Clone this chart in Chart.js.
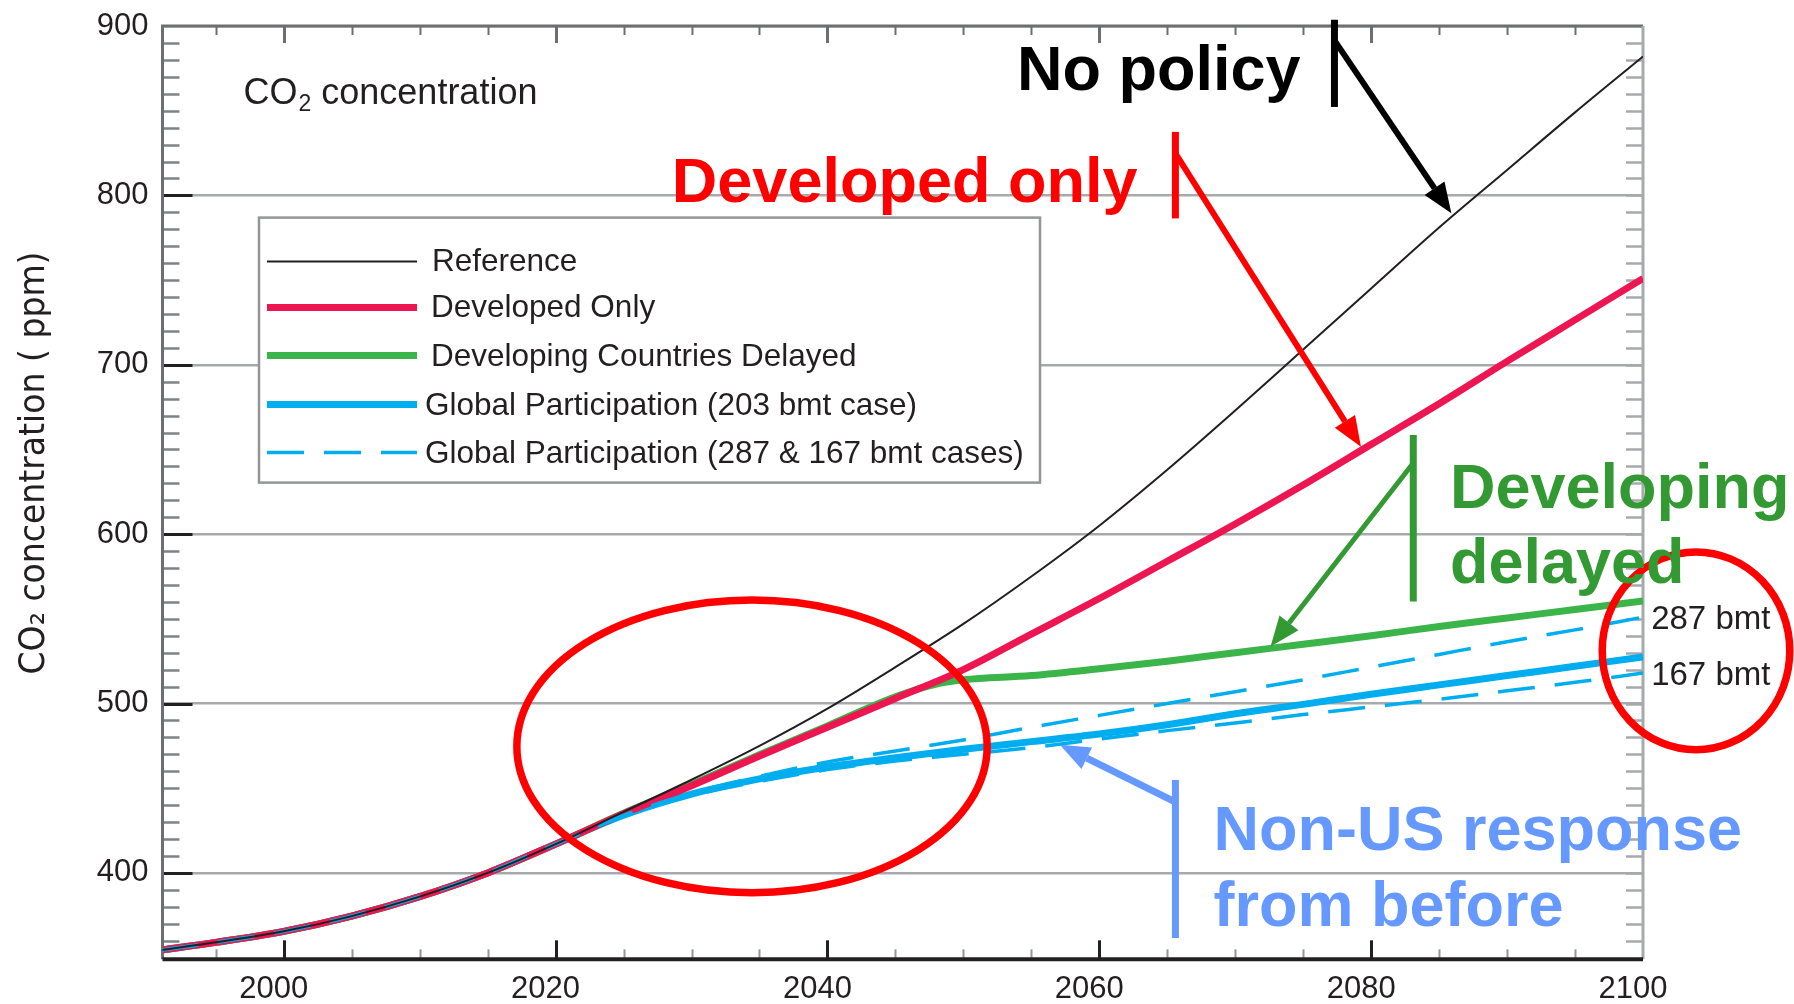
<!DOCTYPE html>
<html>
<head>
<meta charset="utf-8">
<script src="https://cdn.jsdelivr.net/npm/chart.js@4.4.1/dist/chart.umd.min.js"></script>
<style>
  html, body { margin: 0; padding: 0; background: #fff; }
</style>
</head>
<body>
<canvas id="co2Chart" width="1794" height="1004"></canvas>
<script>
// Years sampled along every scenario (delayed case has one extra point at its kink)
var years = [1991, 1995, 2000, 2005, 2010, 2015, 2020, 2025, 2030, 2035, 2040, 2045, 2050, 2055, 2060, 2065, 2070, 2075, 2080, 2085, 2090, 2095, 2100];
var delayedYears = [1991, 1995, 2000, 2005, 2010, 2015, 2020, 2025, 2030, 2035, 2040, 2045, 2048, 2050, 2055, 2060, 2065, 2070, 2075, 2080, 2085, 2090, 2095, 2100];

// CO2 concentration (ppm)
var reference = [354.5, 359, 365.5, 374.5, 386, 400, 417, 436, 455, 475, 497, 521.5, 547, 575, 605, 638, 673, 709, 745, 781, 815, 849, 882];
var developedOnly = [354.5, 359, 365.5, 374.5, 386, 400, 417, 435, 451.5, 469, 486, 503, 520, 541, 562, 584, 606, 629, 653, 677, 702, 726.5, 751];
var delayed = [354.5, 359, 365.5, 374.5, 386, 400, 417, 435.3, 452.2, 469.8, 486.8, 504, 511.5, 514, 516.5, 520.5, 525, 530, 535, 540, 545.5, 550.5, 555.5, 560.5];
var global203 = [354.5, 359, 365.5, 374.5, 386, 400, 417, 434, 446.5, 455.5, 462.5, 468, 473, 477.5, 482, 487.5, 494, 499.5, 505.5, 511, 516.5, 522, 527.5];
var global287 = [354.5, 359, 365.5, 374.5, 386, 400, 417, 434, 447, 457, 465.5, 472, 478.5, 486, 493, 500, 507, 514, 521.5, 529, 536.5, 543.5, 551];
var global167 = [354.5, 359, 365.5, 374.5, 386, 400, 417, 433.5, 445.5, 454, 461, 466, 470, 474, 479, 484, 488.5, 493.5, 498, 502.5, 507.5, 512.5, 518];

// tick labels
var xTickYears = [2000, 2020, 2040, 2060, 2080, 2100];
var yTickValues = [400, 500, 600, 700, 800, 900];

var legendLabels = ['Reference', 'Developed Only', 'Developing Countries Delayed',
  'Global Participation (203 bmt case)', 'Global Participation (287 & 167 bmt cases)'];

function pts(xs, vs) {
  return xs.map(function (x, i) { return { x: x, y: vs[i] }; });
}

var BLACK = '#231f20', RED = '#ed1651', GREEN = '#3bb54a', BLUE = '#00aeef';
var TXT = '"Liberation Sans", Arial, sans-serif';

// annotation layout, in chart units (year, ppm)
var notes = [
  { lines: ['No policy'], color: '#000000', x: 2053.95, y: [862],
    bar: [2077.3, 903.7, 852.2], from: [2077.3, 891.5], to: [2085.9, 789.5], w: 6 },
  { lines: ['Developed only'], color: '#ff0000', x: 2028.55, y: [796.2],
    bar: [2065.6, 837.5, 786.4], from: [2065.6, 824.8], to: [2079.25, 651.6], w: 6 },
  { lines: ['Developing', 'delayed'], color: '#339933', x: 2085.8, y: [615.7, 571],
    bar: [2083.1, 658.5, 560.2], from: [2083.1, 642], to: [2072.6, 533.6], w: 5 },
  { lines: ['Non-US response', 'from before'], color: '#6699ff', x: 2068.4, y: [413.7, 368.4],
    bar: [2065.6, 454.8, 361.6], from: [2065.5, 442.2], to: [2057.1, 475.6], w: 7 }
];
var rings = [
  { x: 2034.45, y: 474.7, rx: 17.3, ry: 86.4 },
  { x: 2103.9, y: 531.1, rx: 6.9, ry: 58.4 }
];
var endLabels = [
  { text: '287 bmt', x: 2100.6, y: 543.9 },
  { text: '167 bmt', x: 2100.6, y: 511.0 }
];

function arrow(ctx, x1, y1, x2, y2, color, w) {
  var ang = Math.atan2(y2 - y1, x2 - x1), L = 30, H = 12;
  var bx = x2 - L * Math.cos(ang), by = y2 - L * Math.sin(ang);
  ctx.strokeStyle = color; ctx.fillStyle = color; ctx.lineWidth = w; ctx.lineCap = 'butt';
  ctx.beginPath(); ctx.moveTo(x1, y1); ctx.lineTo(bx, by); ctx.stroke();
  ctx.beginPath();
  ctx.moveTo(x2, y2);
  ctx.lineTo(bx + H * Math.sin(ang), by - H * Math.cos(ang));
  ctx.lineTo(bx - H * Math.sin(ang), by + H * Math.cos(ang));
  ctx.closePath(); ctx.fill();
}

var framePlugin = {
  id: 'framePlugin',
  beforeDatasetsDraw: function (chart) {
    var ctx = chart.ctx, a = chart.chartArea, xs = chart.scales.x, ys = chart.scales.y;
    ctx.save();
    ctx.lineCap = 'butt';
    // inner ticks on left and right
    for (var v = 360; v < 900; v += 10) {
      var py = Math.round(ys.getPixelForValue(v)) + 0.5;
      var major = v % 100 === 0;
      ctx.strokeStyle = major ? BLACK : '#808285';
      ctx.lineWidth = major ? 3 : 2.5;
      ctx.beginPath(); ctx.moveTo(a.left, py); ctx.lineTo(a.left + (major ? 30 : 17), py); ctx.stroke();
      ctx.strokeStyle = '#a7a9ac'; ctx.lineWidth = 2.5;
      ctx.beginPath(); ctx.moveTo(a.right, py); ctx.lineTo(a.right - 17, py); ctx.stroke();
    }
    // inner ticks on bottom and top
    for (var yr = 1995; yr < 2100; yr += 5) {
      var px = Math.round(xs.getPixelForValue(yr)) + 0.5;
      var maj = yr % 20 === 0;
      ctx.strokeStyle = maj ? BLACK : '#939598'; ctx.lineWidth = maj ? 3 : 2;
      ctx.beginPath(); ctx.moveTo(px, a.bottom); ctx.lineTo(px, a.bottom - (maj ? 19 : 10)); ctx.stroke();
      ctx.strokeStyle = '#6d6e71'; ctx.lineWidth = maj ? 3 : 2;
      ctx.beginPath(); ctx.moveTo(px, a.top); ctx.lineTo(px, a.top + (maj ? 17 : 9)); ctx.stroke();
    }
    // frame
    ctx.lineWidth = 3; ctx.strokeStyle = '#6d6e71';
    ctx.beginPath(); ctx.moveTo(a.left, a.bottom); ctx.lineTo(a.left, a.top); ctx.lineTo(a.right, a.top); ctx.stroke();
    ctx.strokeStyle = '#a7a9ac';
    ctx.beginPath(); ctx.moveTo(a.right, a.top); ctx.lineTo(a.right, a.bottom); ctx.stroke();
    ctx.strokeStyle = BLACK; ctx.lineWidth = 4;
    ctx.beginPath(); ctx.moveTo(a.left, a.bottom); ctx.lineTo(a.right, a.bottom); ctx.stroke();
    ctx.restore();
  },
  afterDatasetsDraw: function (chart) {
    var ctx = chart.ctx, a = chart.chartArea, xs = chart.scales.x, ys = chart.scales.y;
    var X = function (v) { return xs.getPixelForValue(v); };
    var Y = function (v) { return ys.getPixelForValue(v); };
    ctx.save();

    // panel caption
    ctx.fillStyle = BLACK; ctx.textBaseline = 'alphabetic'; ctx.textAlign = 'left';
    var cx = a.left + 81, cy = a.top + 78;
    ctx.font = '36px ' + TXT; ctx.fillText('CO', cx, cy);
    cx += ctx.measureText('CO').width;
    ctx.font = '23px ' + TXT; ctx.fillText('2', cx + 1, cy + 7);
    cx += ctx.measureText('2').width + 1;
    ctx.font = '36px ' + TXT; ctx.fillText(' concentration', cx, cy);

    // legend box
    var lx = a.left + 96.5, ly = a.top + 191.6;
    ctx.fillStyle = '#ffffff'; ctx.fillRect(lx, ly, 781, 265);
    ctx.strokeStyle = '#939598'; ctx.lineWidth = 2.5; ctx.strokeRect(lx, ly, 781, 265);
    var rowLine = [44, 90, 138, 187, 235], rowBase = [53, 99, 148, 197, 245];
    var rowText = [173, 172, 172, 166, 166];
    var sw = [
      { c: BLACK, w: 2, d: [] }, { c: RED, w: 7, d: [] }, { c: GREEN, w: 7, d: [] },
      { c: BLUE, w: 7, d: [] }, { c: BLUE, w: 3.5, d: [37, 20] }
    ];
    legendLabels.forEach(function (t, i) {
      ctx.strokeStyle = sw[i].c; ctx.lineWidth = sw[i].w; ctx.setLineDash(sw[i].d);
      ctx.beginPath(); ctx.moveTo(lx + 8, ly + rowLine[i]); ctx.lineTo(lx + 158, ly + rowLine[i]); ctx.stroke();
      ctx.setLineDash([]);
      ctx.fillStyle = BLACK; ctx.font = '31.5px ' + TXT;
      ctx.fillText(t, lx + rowText[i], ly + rowBase[i]);
    });

    // red rings
    ctx.strokeStyle = '#ff0000'; ctx.lineWidth = 7.5;
    rings.forEach(function (r) {
      var px = X(r.x), py = Y(r.y);
      ctx.beginPath();
      ctx.ellipse(px, py, X(r.x + r.rx) - px, Y(r.y - r.ry) - py, 0, 0, Math.PI * 2);
      ctx.stroke();
    });

    // labels at right edge
    ctx.fillStyle = BLACK; ctx.font = '33px ' + TXT;
    endLabels.forEach(function (e) { ctx.fillText(e.text, X(e.x), Y(e.y)); });

    // big annotations
    notes.forEach(function (n) {
      ctx.fillStyle = n.color; ctx.font = 'bold 63px ' + TXT;
      n.lines.forEach(function (t, i) { ctx.fillText(t, X(n.x), Y(n.y[i])); });
      ctx.strokeStyle = n.color; ctx.lineWidth = 7;
      ctx.beginPath(); ctx.moveTo(X(n.bar[0]), Y(n.bar[1])); ctx.lineTo(X(n.bar[0]), Y(n.bar[2])); ctx.stroke();
      arrow(ctx, X(n.from[0]), Y(n.from[1]), X(n.to[0]), Y(n.to[1]), n.color, n.w);
    });

    // y axis title
    ctx.save();
    ctx.translate(44, 463);
    ctx.rotate(-Math.PI / 2);
    ctx.font = '36px "DejaVu Sans", sans-serif';
    ctx.fillStyle = BLACK; ctx.textAlign = 'center';
    var title = 'CO\u2082 concentration ( ppm)';
    var tw = ctx.measureText(title).width;
    ctx.scale(423 / tw, 1);
    ctx.fillText(title, 0, 0);
    ctx.restore();

    ctx.restore();
  }
};

var ctx = document.getElementById('co2Chart').getContext('2d');
var co2Chart = new Chart(ctx, {
  type: 'line',
  data: {
    datasets: [{
      label: 'Reference',
      data: pts(years, reference),
      borderColor: BLACK, borderWidth: 2, order: 0
    }, {
      label: 'Global Participation (287 bmt case)',
      data: pts(years, global287),
      borderColor: BLUE, borderWidth: 3.5, borderDash: [37, 20], order: 1
    }, {
      label: 'Global Participation (167 bmt case)',
      data: pts(years, global167),
      borderColor: BLUE, borderWidth: 3.5, borderDash: [37, 20], order: 1
    }, {
      label: 'Developed Only',
      data: pts(years, developedOnly),
      borderColor: RED, borderWidth: 7, order: 2
    }, {
      label: 'Developing Countries Delayed',
      data: pts(delayedYears, delayed),
      borderColor: GREEN, borderWidth: 7, order: 3
    }, {
      label: 'Global Participation (203 bmt case)',
      data: pts(years, global203),
      borderColor: BLUE, borderWidth: 7, order: 4
    }]
  },
  options: {
    responsive: false,
    animation: false,
    devicePixelRatio: 1,
    layout: { padding: { top: 26, right: 151, left: 0, bottom: 0 } },
    elements: {
      point: { radius: 0, hoverRadius: 0 },
      line: { fill: false, cubicInterpolationMode: 'monotone', borderCapStyle: 'butt' }
    },
    plugins: { legend: { display: false }, tooltip: { enabled: false } },
    scales: {
      x: {
        type: 'linear', min: 1991.08, max: 2100,
        afterBuildTicks: function (s) { s.ticks = xTickYears.map(function (v) { return { value: v }; }); },
        afterFit: function (s) { s.height = 44.7; },
        grid: { display: false, drawTicks: false },
        border: { display: false },
        ticks: {
          font: { family: TXT, size: 31, lineHeight: 1 }, color: BLACK, padding: 15, labelOffset: -10,
          maxRotation: 0, autoSkip: false,
          callback: function (v) { return String(v); }
        }
      },
      y: {
        type: 'linear', min: 349, max: 900,
        afterBuildTicks: function (s) { s.ticks = yTickValues.map(function (v) { return { value: v }; }); },
        afterFit: function (s) { s.width = 162.5; s.paddingTop = 0; s.paddingBottom = 0; },
        grid: { color: '#a7a9ac', lineWidth: 2.5, drawTicks: false },
        border: { display: false },
        ticks: {
          font: { family: TXT, size: 31, lineHeight: 1 }, color: BLACK, padding: 14,
          callback: function (v) { return String(v); }
        }
      }
    }
  },
  plugins: [framePlugin]
});
</script>
</body>
</html>
